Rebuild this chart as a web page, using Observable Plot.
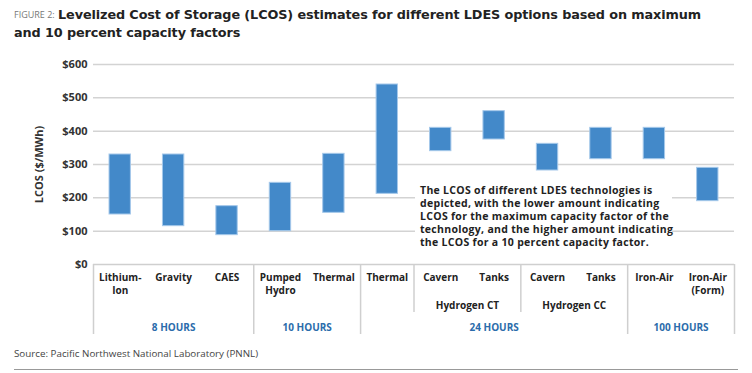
<!DOCTYPE html>
<html><head><meta charset="utf-8">
<script src="https://cdn.jsdelivr.net/npm/d3@7"></script>
<script src="https://cdn.jsdelivr.net/npm/@observablehq/plot@0.6"></script>
<style>
body{margin:0;background:#fff;font-family:"Open Sans",sans-serif;}
#wrap{position:relative;width:752px;height:373px;overflow:hidden;background:#fff;}
#fig{position:absolute;left:14px;top:8px;font-size:9px;letter-spacing:0px;color:#777;line-height:14px;white-space:nowrap;}
.tline{position:absolute;font-family:"DejaVu Sans",sans-serif;font-size:12.8px;font-weight:700;color:#222;line-height:16px;white-space:nowrap;letter-spacing:-0.1px;}
#t1{left:58px;top:7px;}
#t2{left:14px;top:25px;}
#chart{position:absolute;left:0;top:45px;}
#note{position:absolute;left:415px;top:184px;width:257px;background:#fff;padding:0 0 0 5px;box-sizing:border-box;font-size:10.5px;font-weight:700;line-height:13px;color:#222;letter-spacing:0.3px;white-space:nowrap;}
#source{position:absolute;left:14px;top:347px;font-size:9.8px;color:#444;white-space:nowrap;}
#rule{position:absolute;left:14px;top:369px;width:724px;height:0;border-top:1.5px solid #999;}
</style></head>
<body>
<div id="wrap">
  <div id="fig">FIGURE 2:</div>
  <div class="tline" id="t1">Levelized Cost of Storage (LCOS) estimates for different LDES options based on maximum</div>
  <div class="tline" id="t2">and 10 percent capacity factors</div>
  <div id="chart"></div>
  <div id="note">The LCOS of different LDES technologies is<br>depicted, with the lower amount indicating<br>LCOS for the maximum capacity factor of the<br>technology, and the higher amount indicating<br>the LCOS for a 10 percent capacity factor.</div>
  <div id="source">Source: Pacific Northwest National Laboratory (PNNL)</div>
  <div id="rule"></div>
</div>
<script>
const categories = ["Lithium-\nIon","Gravity","CAES","Pumped\nHydro","Thermal","Thermal","Cavern","Tanks","Cavern","Tanks","Iron-Air","Iron-Air\n(Form)"];
const lowValues  = [150,115,88,100,155,212,340,375,282,316,316,190];
const highValues = [330,330,175,245,332,540,410,460,362,410,410,290];
const durations  = ["8 HOURS","8 HOURS","8 HOURS","10 HOURS","10 HOURS","24 HOURS","24 HOURS","24 HOURS","24 HOURS","24 HOURS","100 HOURS","100 HOURS"];
const subgroups  = ["","","","","","","Hydrogen CT","Hydrogen CT","Hydrogen CC","Hydrogen CC","",""];
const yTicks = [0,100,200,300,400,500,600];

const idx = categories.map((_, i) => i);

function runs(arr) {
  const out = [];
  arr.forEach((v, i) => {
    if (out.length && out[out.length-1].label === v) out[out.length-1].end = i + 1;
    else out.push({label: v, start: i, end: i + 1});
  });
  return out;
}
const groupRuns = runs(durations);
const subRuns = runs(subgroups).filter(r => r.label);
const groupEdges = [0, ...groupRuns.map(r => r.end)];
const subEdges = [];
runs(subgroups).forEach(r => { if (r.label) { subEdges.push(r.start, r.end); } });
const innerEdges = [...new Set(subEdges)].filter(e => !groupEdges.includes(e));

const fullDepth = -210;
const shortDepth = -144;

const chart = Plot.plot({
  width: 752,
  height: 300,
  marginTop: 19,
  marginBottom: 81,
  marginLeft: 93,
  marginRight: 18,
  style: {fontFamily: "Open Sans, sans-serif", fontSize: "10px", background: "transparent", overflow: "visible"},
  x: {type: "linear", domain: [0, categories.length], axis: null},
  y: {domain: [0, 600], axis: null},
  marks: [
    Plot.ruleY(yTicks.filter(d => d > 0), {stroke: "#d3d3d3", strokeWidth: 1.5}),
    Plot.ruleY([0], {stroke: "#cfcfcf", strokeWidth: 1.5}),
    Plot.axisY({ticks: yTicks, tickSize: 0, tickPadding: 6, tickFormat: d => "$" + d, fontWeight: 700, fontSize: 11, fill: "#333",
      label: "LCOS ($/MWh)", labelAnchor: "center", labelArrow: "none", labelOffset: 58}),
    Plot.ruleX(groupEdges, {y1: 0, y2: fullDepth, stroke: "#cfcfcf", strokeWidth: 1.5}),
    Plot.ruleX(innerEdges, {y1: 0, y2: shortDepth, stroke: "#cfcfcf", strokeWidth: 1.5}),
    Plot.rectY(idx, {x1: i => i + 0.3, x2: i => i + 0.7, y1: i => lowValues[i], y2: i => highValues[i], fill: "#4389c9", stroke: "#a5c8ea", strokeWidth: 1}),
    Plot.text(idx, {x: i => i + 0.5, y: 0, dy: 8, text: i => categories[i], lineAnchor: "top", lineHeight: 1.25, fontSize: 10, fontWeight: 700, fill: "#222"}),
    Plot.text(subRuns, {x: r => (r.start + r.end) / 2, y: 0, dy: 41, text: "label", fontSize: 10, fontWeight: 700, fill: "#222"}),
    Plot.text(groupRuns, {x: r => (r.start + r.end) / 2, y: 0, dy: 63, text: "label", fontSize: 10, fontWeight: 700, fill: "#2b6cab"})
  ]
});
document.getElementById("chart").appendChild(chart);
</script>
</body></html>
